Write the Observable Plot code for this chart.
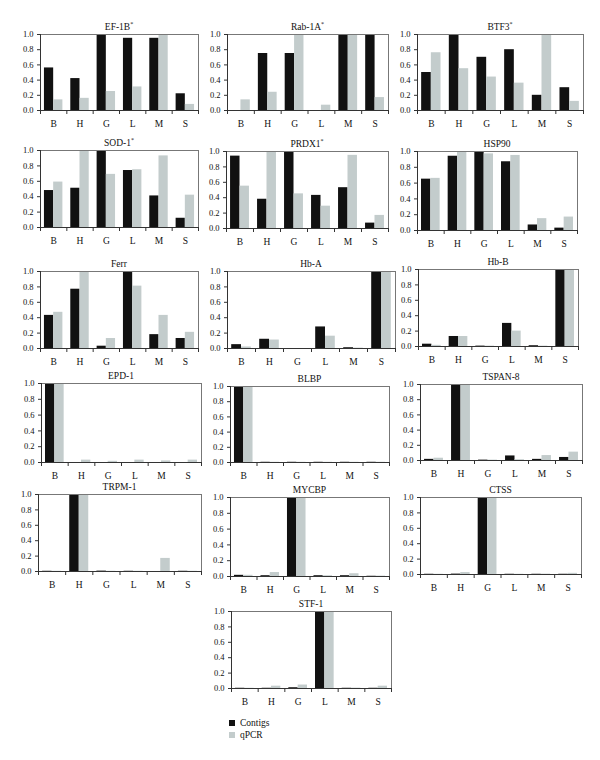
<!DOCTYPE html>
<html><head><meta charset="utf-8">
<script src="https://cdn.jsdelivr.net/npm/d3@7"></script>
<script src="https://cdn.jsdelivr.net/npm/@observablehq/plot@0.6"></script>
<style>
body{margin:0;background:#fff;}
#root{position:relative;width:600px;height:760px;font-family:"Liberation Serif","DejaVu Serif",serif;color:#111;}
.panel{position:absolute;}
.title{position:absolute;font-size:9.5px;line-height:10px;text-align:center;white-space:nowrap;}
.title sup{font-size:6px;line-height:0;vertical-align:4px;}
.legend{position:absolute;font-size:9.5px;line-height:12px;}
.legend .sw{display:inline-block;width:6px;height:6px;margin-right:5px;vertical-align:0px;}
</style></head><body><div id="root"></div>
<script>
// ---- data ----
const tissues = ["B","H","G","L","M","S"];
const series = ["Contigs","qPCR"];
const seriesColors = ["#111111","#c3cccc"];
const genes = ["EF-1B*","Rab-1A*","BTF3*","SOD-1*","PRDX1*","HSP90","Ferr","Hb-A","Hb-B","EPD-1","BLBP","TSPAN-8","TRPM-1","MYCBP","CTSS","STF-1"];
const contigs = [
  [0.56,0.42,1.00,0.95,0.95,0.22],
  [0.00,0.75,0.75,0.00,1.00,1.00],
  [0.50,1.00,0.70,0.80,0.20,0.30],
  [0.48,0.51,1.00,0.74,0.41,0.12],
  [0.94,0.38,1.00,0.43,0.53,0.07],
  [0.65,0.94,1.00,0.87,0.07,0.03],
  [0.43,0.77,0.03,1.00,0.18,0.13],
  [0.05,0.12,0.00,0.28,0.01,1.00],
  [0.03,0.13,0.005,0.30,0.01,1.00],
  [1.00,0.00,0.00,0.00,0.00,0.00],
  [1.00,0.003,0.003,0.003,0.003,0.003],
  [0.015,1.00,0.005,0.06,0.015,0.04],
  [0.003,1.00,0.005,0.003,0.00,0.003],
  [0.015,0.01,1.00,0.01,0.01,0.003],
  [0.003,0.005,1.00,0.003,0.003,0.003],
  [0.003,0.003,0.01,1.00,0.003,0.003]
];
const qpcr = [
  [0.14,0.16,0.25,0.31,1.00,0.08],
  [0.14,0.24,1.00,0.07,1.00,0.17],
  [0.76,0.55,0.44,0.36,1.00,0.12],
  [0.59,1.00,0.69,0.75,0.93,0.42],
  [0.55,1.00,0.45,0.29,0.95,0.17],
  [0.66,1.00,0.97,0.95,0.15,0.17],
  [0.47,1.00,0.13,0.81,0.43,0.21],
  [0.02,0.11,0.00,0.16,0.005,1.00],
  [0.015,0.13,0.005,0.20,0.005,1.00],
  [1.00,0.03,0.015,0.03,0.02,0.03],
  [1.00,0.003,0.003,0.003,0.003,0.003],
  [0.03,1.00,0.005,0.01,0.065,0.11],
  [0.003,1.00,0.003,0.003,0.17,0.003],
  [0.015,0.05,1.00,0.01,0.035,0.005],
  [0.003,0.025,1.00,0.003,0.005,0.015],
  [0.003,0.03,0.045,1.00,0.005,0.03]
];
const yTicks = [0,0.2,0.4,0.6,0.8,1.0];

// ---- layout (plot-area boxes: x0, x1, y0, y1) ----
const boxes = [
  [40,198,34,110],[227,388,34,110],[417,583,34,110],
  [40,198,150,227],[226,388,151,228],[417,577,151,230],
  [40,198,271,348],[227,395,271,348],[418,578,269,346],
  [41,201,383,462],[230,389,386,462],[420,582,384,460],
  [38,201,494,571],[230,389,497,576],[420,581,497,574],
  [231,391,611,688]
];
const barSlots = {Contigs:[0.15,0.5], qPCR:[0.5,0.85]};

const root = document.getElementById("root");
genes.forEach((g, i) => {
  const [x0,x1,y0,y1] = boxes[i];
  const ML = 30, MR = 4, MT = 2, MB = 24;
  const rows = [];
  tissues.forEach((t, j) => {
    rows.push({t, j, s: "Contigs", v: contigs[i][j]});
    rows.push({t, j, s: "qPCR", v: qpcr[i][j]});
  });
  const chart = Plot.plot({
    width: x1 - x0 + ML + MR,
    height: y1 - y0 + MT + MB,
    marginLeft: ML, marginRight: MR, marginTop: MT, marginBottom: MB,
    style: {fontFamily: '"Liberation Serif","DejaVu Serif",serif', fontSize: "8.5px", color: "#111", background: "transparent", overflow: "visible"},
    x: {domain: [0, tissues.length], axis: null},
    y: {domain: [0, 1], axis: null},
    color: {domain: series, range: seriesColors},
    marks: [
      Plot.rect(rows, {x1: d => d.j + barSlots[d.s][0], x2: d => d.j + barSlots[d.s][1], y1: 0, y2: "v", fill: "s"}),
      Plot.frame({stroke: "#777", strokeWidth: 1}),
      Plot.ruleX([0], {stroke: "#333"}),
      Plot.ruleY([0], {stroke: "#333"}),
      Plot.axisY({ticks: yTicks, tickFormat: d => d.toFixed(1), tickSize: 3, tickPadding: 4, label: null, stroke: "#333"}),
      Plot.axisX({ticks: d3.range(tissues.length + 1), tickFormat: () => "", tickSize: 4, label: null, stroke: "#333"}),
      Plot.axisX({ticks: tissues.map((t, j) => j + 0.5), tickFormat: d => tissues[Math.floor(d)], tickSize: 0, tickPadding: 10, label: null, fontSize: 9.5})
    ]
  });
  const div = document.createElement("div");
  div.className = "panel";
  div.style.left = (x0 - ML) + "px";
  div.style.top = (y0 - MT) + "px";
  div.appendChild(chart);
  root.appendChild(div);

  const title = document.createElement("div");
  title.className = "title";
  title.style.left = x0 + "px";
  title.style.width = (x1 - x0) + "px";
  title.style.top = (y0 - 12) + "px";
  title.innerHTML = g.replace("*", "<sup>*</sup>");
  root.appendChild(title);
});

const legend = document.createElement("div");
legend.className = "legend";
legend.style.left = "229px";
legend.style.top = "717px";
legend.innerHTML = series.map((s, k) =>
  `<div><span class="sw" style="background:${seriesColors[k]}"></span>${s}</div>`).join("");
root.appendChild(legend);
</script>
</body></html>
